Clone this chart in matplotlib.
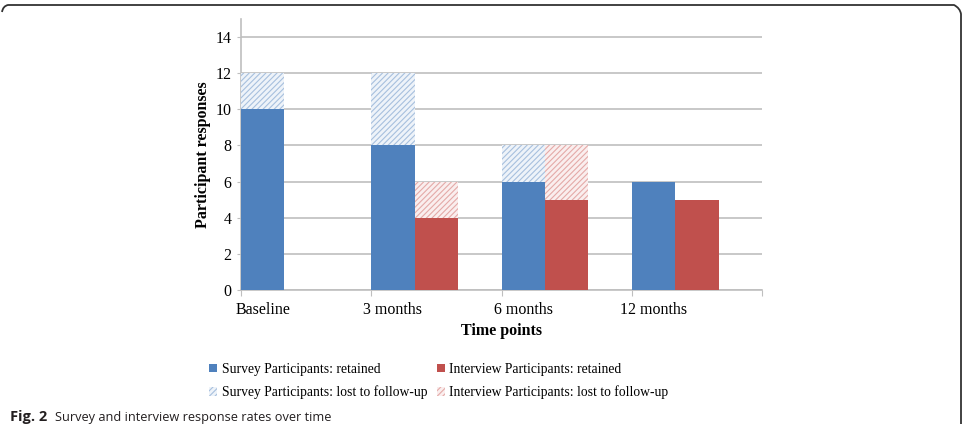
import numpy as np
import matplotlib
matplotlib.use('Agg')
import matplotlib.pyplot as plt
from matplotlib.patches import Patch
from matplotlib.path import Path
from matplotlib.patches import PathPatch

# data
time_points = ['Baseline', '3 months', '6 months', '12 months']
survey_retained = [10, 8, 6, 6]
survey_lost = [2, 4, 2, 0]
interview_retained = [0, 4, 5, 5]
interview_lost = [0, 2, 3, 0]

blue = '#4F81BD'
red = '#C0504D'

plt.rcParams['font.family'] = ['Liberation Serif', 'DejaVu Serif']
plt.rcParams['hatch.linewidth'] = 0.8

fig = plt.figure(figsize=(9.65, 4.24), dpi=100)
ax = fig.add_axes([241 / 965, 1 - 290 / 424, (762 - 241) / 965, (290 - 19) / 424])

x = np.arange(len(time_points))
w = 1 / 3

ax.bar(x, survey_retained, width=w, align='edge', color=blue, zorder=3)
ax.bar(x, survey_lost, width=w, align='edge', bottom=survey_retained,
       facecolor='#eef3f9', edgecolor='#a7c0de', hatch='//////', linewidth=0, zorder=3)
ax.bar(x + w, interview_retained, width=w, align='edge', color=red, zorder=3)
ax.bar(x + w, interview_lost, width=w, align='edge', bottom=interview_retained,
       facecolor='#faeeee', edgecolor='#e4aaa8', hatch='//////', linewidth=0, zorder=3)

ax.set_xlim(0, 4)
ax.set_ylim(0, 15)
ax.set_yticks(range(0, 15, 2))
ax.yaxis.grid(True, color='#BFBFBF', linewidth=1.2, zorder=0)
ax.tick_params(axis='y', length=3, color='#BFBFBF', labelsize=11.5, pad=4)

ax.set_xticks(range(0, 5))
ax.set_xticklabels([])
ax.set_xticks(x + w / 2, minor=True)
ax.set_xticklabels(time_points, minor=True)
ax.tick_params(axis='x', which='major', length=4, color='#BFBFBF')
ax.tick_params(axis='x', which='minor', length=0, labelsize=11.5, pad=9)

for s in ['top', 'right']:
    ax.spines[s].set_visible(False)
for s in ['left', 'bottom']:
    ax.spines[s].set_color('#BFBFBF')
    ax.spines[s].set_linewidth(1.2)

ax.set_ylabel('Participant responses', fontsize=11.5, fontweight='bold', labelpad=3)
ax.set_xlabel('Time points', fontsize=11.5, fontweight='bold', labelpad=3)

handles = [
    Patch(facecolor=blue, label='Survey Participants: retained'),
    Patch(facecolor='#eef3f9', edgecolor='#a7c0de', hatch='//////', linewidth=0,
          label='Survey Participants: lost to follow-up'),
    Patch(facecolor=red, label='Interview Participants: retained'),
    Patch(facecolor='#faeeee', edgecolor='#e4aaa8', hatch='//////', linewidth=0,
          label='Interview Participants: lost to follow-up'),
]
fig.legend(handles=handles, ncol=2, loc='center left', bbox_to_anchor=(197 / 965, 1 - 381 / 424),
           frameon=False, fontsize=9.8, handlelength=0.6, handleheight=0.6,
           handletextpad=0.3, columnspacing=0.7, labelspacing=0.7)

# caption
fig.text(10 / 965, 1 - 421 / 424, 'Fig. 2', family='Open Sans', fontweight='bold',
         fontsize=10.5, color='#231f20', va='baseline')
fig.text(55 / 965, 1 - 421 / 424, 'Survey and interview response rates over time',
         family='Open Sans', fontsize=9.2, color='#231f20', va='baseline')

# frame around the figure (top edge with rounded corners, right side)
W, H = 965, 424
pts = [(2 / W, 1 - 12 / H), (3 / W, 1 - 6 / H), (8 / W, 1 - 5 / H), (954 / W, 1 - 5 / H),
       (960 / W, 1 - 8 / H), (961 / W, 1 - 14 / H), (961 / W, 0)]
codes = [Path.MOVETO, Path.CURVE3, Path.CURVE3, Path.LINETO, Path.CURVE3, Path.CURVE3, Path.LINETO]
fig.patches.append(PathPatch(Path(pts, codes), transform=fig.transFigure, fill=False,
                             edgecolor='#333333', linewidth=1.3))

fig.savefig('out.png', dpi=100)
